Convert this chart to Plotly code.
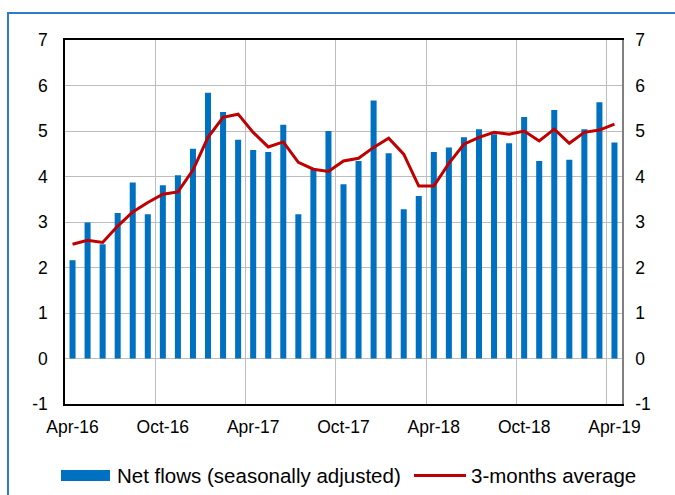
import plotly.graph_objects as go

months = ["Apr-16", "May-16", "Jun-16", "Jul-16", "Aug-16", "Sep-16", "Oct-16", "Nov-16", "Dec-16",
          "Jan-17", "Feb-17", "Mar-17", "Apr-17", "May-17", "Jun-17", "Jul-17", "Aug-17", "Sep-17",
          "Oct-17", "Nov-17", "Dec-17", "Jan-18", "Feb-18", "Mar-18", "Apr-18", "May-18", "Jun-18",
          "Jul-18", "Aug-18", "Sep-18", "Oct-18", "Nov-18", "Dec-18", "Jan-19", "Feb-19", "Mar-19",
          "Apr-19"]

net_flows = [2.16, 2.99, 2.51, 3.20, 3.87, 3.17, 3.81, 4.03, 4.61,
             5.84, 5.42, 4.81, 4.58, 4.54, 5.14, 3.17, 4.16, 5.00,
             3.83, 4.34, 5.67, 4.51, 3.28, 3.57, 4.54, 4.64, 4.86,
             5.04, 4.93, 4.73, 5.31, 4.34, 5.46, 4.37, 5.04, 5.63,
             4.75]

avg_3m = [2.51, 2.60, 2.55, 2.91, 3.22, 3.43, 3.61, 3.66, 4.14,
          4.86, 5.30, 5.37, 4.97, 4.65, 4.76, 4.31, 4.16, 4.11,
          4.34, 4.40, 4.64, 4.84, 4.49, 3.79, 3.79, 4.29, 4.71,
          4.86, 4.97, 4.93, 5.00, 4.78, 5.04, 4.73, 4.97, 5.02,
          5.15]

y_ticks = [-1, 0, 1, 2, 3, 4, 5, 6, 7]
y_tick_labels = ["-1", "0", "1", "2", "3", "4", "5", "6", "7"]

bar_name = "Net flows (seasonally adjusted)"
line_name = "3-months average"

BLUE = "#0070C0"
RED = "#C00000"
FONT = "Arial, Liberation Sans, sans-serif"

fig = go.Figure()
fig.add_trace(go.Bar(x=months, y=net_flows, name=bar_name, marker=dict(color=BLUE, line=dict(width=0)),
                     yaxis="y"))
fig.add_trace(go.Scatter(x=months, y=avg_3m, name=line_name, mode="lines",
                         line=dict(color=RED, width=3), yaxis="y2"))

# plot-area geometry in pixels (for legend placement in paper coords)
L, R, T, B = 65, 622, 40, 404
W, H = R - L, B - T
px = lambda x: (x - L) / W
py = lambda y: (B - y) / H

fig.update_layout(
    width=675, height=495,
    margin=dict(l=L, r=675 - R, t=T, b=495 - B, autoexpand=False),
    paper_bgcolor="white", plot_bgcolor="white",
    showlegend=False,
    bargap=0.6,
    font=dict(family=FONT, size=16, color="black"),
    xaxis=dict(type="category", categoryorder="array", categoryarray=months,
               range=[-0.5, len(months) - 0.5], automargin=False,
               tickmode="linear", tick0=0, dtick=6, tickson="boundaries", tickangle=0,
               ticks="", showgrid=True, gridcolor="#BDBDBD", gridwidth=1,
               showline=True, linecolor="black", linewidth=1.5, mirror=True,
               tickfont=dict(size=17.5), ticklabelstandoff=6),
    yaxis=dict(range=[-1, 7], tickmode="array", tickvals=y_ticks, ticktext=y_tick_labels,
               automargin=False,
               showgrid=True, gridcolor="#BDBDBD", gridwidth=1, zeroline=False,
               showline=True, linecolor="black", linewidth=1.5,
               ticks="", tickfont=dict(size=17.5), ticklabelstandoff=12),
    yaxis2=dict(range=[-1, 7], tickmode="array", tickvals=y_ticks, ticktext=y_tick_labels,
                automargin=False,
                overlaying="y", side="right", showgrid=False, zeroline=False,
                showline=True, linecolor="#808080", linewidth=1.5,
                ticks="", tickfont=dict(size=17.5), ticklabelstandoff=8),
)

shapes = [
    # outer blue border
    dict(type="rect", xref="paper", yref="paper", x0=px(8), x1=px(700), y0=py(13), y1=py(520),
         line=dict(color="#2E7BC9", width=2), fillcolor="rgba(0,0,0,0)", layer="below"),
    # legend symbols
    dict(type="rect", xref="paper", yref="paper", x0=px(61), x1=px(110), y0=py(470), y1=py(481),
         line=dict(width=0), fillcolor=BLUE),
    dict(type="line", xref="paper", yref="paper", x0=px(414), x1=px(466), y0=py(475.5), y1=py(475.5),
         line=dict(color=RED, width=3)),
]
fig.update_layout(shapes=shapes)

fig.add_annotation(x=px(115), y=py(475), xref="paper", yref="paper", text=bar_name,
                   showarrow=False, xanchor="left", yanchor="middle", font=dict(size=20.5))
fig.add_annotation(x=px(469), y=py(475), xref="paper", yref="paper", text=line_name,
                   showarrow=False, xanchor="left", yanchor="middle", font=dict(size=20.5))

fig.write_html("out.html", config={"displayModeBar": False},
               post_script="document.body.style.margin='0';document.body.style.overflow='hidden';")
